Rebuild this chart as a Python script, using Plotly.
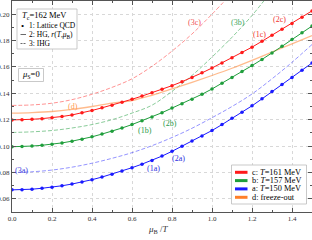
import plotly.graph_objects as go

# ---------------- data ----------------
mu_lat = [round(0.05 * i, 2) for i in range(31)]
lat_c = [0.1198, 0.1199, 0.1203, 0.1208, 0.1214, 0.1224, 0.1236, 0.1252, 0.1270, 0.1290,
         0.1310, 0.1332, 0.1355, 0.1379, 0.1404, 0.1430, 0.1458, 0.1488, 0.1520, 0.1555,
         0.1592, 0.1630, 0.1670, 0.1710, 0.1750, 0.1795, 0.1840, 0.1885, 0.1930, 0.1977, 0.2025]
lat_b = [0.0995, 0.0996, 0.1000, 0.1006, 0.1013, 0.1024, 0.1037, 0.1052, 0.1070, 0.1091,
         0.1113, 0.1137, 0.1163, 0.1191, 0.1220, 0.1253, 0.1288, 0.1321, 0.1355, 0.1393,
         0.1433, 0.1476, 0.1520, 0.1565, 0.1610, 0.1657, 0.1705, 0.1756, 0.1808, 0.1859, 0.1910]
lat_a = [0.0668, 0.0669, 0.0673, 0.0680, 0.0688, 0.0699, 0.0712, 0.0727, 0.0745, 0.0765,
         0.0787, 0.0810, 0.0836, 0.0863, 0.0891, 0.0924, 0.0960, 0.0998, 0.1038, 0.1077,
         0.1118, 0.1163, 0.1210, 0.1257, 0.1305, 0.1358, 0.1413, 0.1466, 0.1520, 0.1575, 0.1630]

mu_line = [round(0.1 * i, 1) for i in range(16)]
freeze_d = [0.1250, 0.1254, 0.1262, 0.1278, 0.1300, 0.1325, 0.1345, 0.1385, 0.1433, 0.1483,
            0.1535, 0.1590, 0.1650, 0.1713, 0.1775, 0.1838]
ihg_a = [0.0800, 0.0805, 0.0818, 0.0840, 0.0870, 0.0907, 0.0950, 0.1003, 0.1065, 0.1135,
         0.1215, 0.1300, 0.1395, 0.1510, 0.1635, 0.1770]
mu_ihg_b = [round(0.1 * i, 1) for i in range(14)]
ihg_b = [0.1103, 0.1108, 0.1118, 0.1137, 0.1163, 0.1200, 0.1250, 0.1310, 0.1415, 0.1535,
         0.1675, 0.1825, 0.1990, 0.2180]
mu_ihg_c = [round(0.1 * i, 1) for i in range(12)]
ihg_c = [0.1308, 0.1312, 0.1325, 0.1352, 0.1393, 0.1445, 0.1510, 0.1605, 0.1720, 0.1850,
         0.2000, 0.2160]

x_ticks = [0.0, 0.2, 0.4, 0.6, 0.8, 1.0, 1.2, 1.4]
y_ticks = [0.06, 0.08, 0.10, 0.12, 0.14, 0.16, 0.18, 0.20]

# ---------------- styling ----------------
RED, GREEN, BLUE, ORANGE = "#ff1a1a", "#1f9e3c", "#1a1aff", "#ff7f2a"
SERIF = "Liberation Serif"
W, H = 312, 240
ML, MR, MT, MB = 12, 0, 1, 28


def px(xp, yp):
    return (xp - ML) / (W - ML - MR), (H - MB - yp) / (H - MT - MB)


fig = go.Figure()

# IHG dashed
for xs, ys, col in [(mu_line, ihg_a, "rgba(60,60,255,0.55)"),
                    (mu_ihg_b, ihg_b, "rgba(40,160,70,0.55)"),
                    (mu_ihg_c, ihg_c, "rgba(255,40,40,0.5)")]:
    fig.add_trace(go.Scatter(x=xs, y=ys, mode="lines", line=dict(color=col, width=1, dash="4px,2px", shape="spline"),
                             showlegend=False, hoverinfo="skip"))

# freeze-out
fig.add_trace(go.Scatter(x=mu_line, y=freeze_d, mode="lines",
                         line=dict(color="rgba(255,150,80,0.65)", width=1.3, shape="spline"),
                         showlegend=False, hoverinfo="skip"))

# lattice + HG lines
for ys, col in [(lat_a, BLUE), (lat_b, GREEN), (lat_c, RED)]:
    fig.add_trace(go.Scatter(x=mu_lat, y=ys, mode="lines+markers",
                             line=dict(color=col, width=1),
                             marker=dict(color=col, size=3.5, symbol="circle"),
                             showlegend=False, hoverinfo="skip"))

ann = []
shapes = []


def note(text, xp, yp, size, color="black", xanchor="left"):
    x, y = px(xp, yp)
    ann.append(dict(text=text, x=x, y=y, xref="paper", yref="paper", xanchor=xanchor, yanchor="middle",
                    showarrow=False, font=dict(family=SERIF, size=size, color=color)))


# curve labels
labels = [("(3c)", 0.913, 0.1936, "#f05050"), ("(3b)", 1.13, 0.1936, "#40a860"),
          ("(2c)", 1.339, 0.1962, "#f03030"), ("(1c)", 1.238, 0.1849, "#f03030"),
          ("(d)", 0.305, 0.1300, "#ff9a50"), ("(1b)", 0.664, 0.1119, "#2a9a4a"),
          ("(2b)", 0.789, 0.1170, "#2a9a4a"), ("(3a)", 0.047, 0.0817, "#4040e0"),
          ("(1a)", 0.705, 0.0830, "#3030e0"), ("(2a)", 0.830, 0.0905, "#3030e0")]
for t, x, y, c in labels:
    ann.append(dict(text=t, x=x, y=y, xref="x", yref="y", showarrow=False, xanchor="center", yanchor="middle",
                    font=dict(family=SERIF, size=8, color=c)))

# top-left legend box
x0, y0 = px(17, 9)
x1, y1 = px(77, 49)
shapes.append(dict(type="rect", xref="paper", yref="paper", x0=x0, y0=y1, x1=x1, y1=y0,
                   line=dict(color="#bbbbbb", width=0.8), fillcolor="white", layer="above"))
note("<i>T</i><sub>c</sub>=162 MeV", 20, 15.5, 8.5)
rows = [("1: Lattice QCD", 25.5, "marker"), ("2: HG, <i>r</i>(<i>T</i>,<i>μ</i><sub>B</sub>)", 34.5, "solid"),
        ("3: IHG", 43.5, "dash")]
for t, yy, kind in rows:
    note(t, 27, yy, 7.5)
    if kind == "marker":
        note("•", 22.5, yy, 9, xanchor="center")
    else:
        a0, b0 = px(20.5, yy)
        a1, _ = px(26, yy)
        shapes.append(dict(type="line", xref="paper", yref="paper", x0=a0, x1=a1, y0=b0, y1=b0,
                           line=dict(color="#444444", width=0.8, dash="2px,1px" if kind == "dash" else "solid"),
                           layer="above"))

# mu_S = 0 box
x0, y0 = px(18.5, 68.5)
x1, y1 = px(43.5, 81.5)
shapes.append(dict(type="rect", xref="paper", yref="paper", x0=x0, y0=y1, x1=x1, y1=y0,
                   line=dict(color="#bbbbbb", width=0.8), fillcolor="white", layer="above"))
note("<i>μ</i><sub>S</sub>=0", 31, 75, 8.5, xanchor="center")

# bottom-right legend
x0, y0 = px(231.5, 165)
x1, y1 = px(306.5, 204)
shapes.append(dict(type="rect", xref="paper", yref="paper", x0=x0, y0=y1, x1=x1, y1=y0,
                   line=dict(color="#bbbbbb", width=0.8), fillcolor="white", layer="above"))
leg2 = [("c: <i>T</i>=161 MeV", RED, 172.3), ("b: <i>T</i>=157 MeV", GREEN, 180.6),
        ("a: <i>T</i>=150 MeV", BLUE, 188.9), ("d: freeze-out", ORANGE, 197.3)]
for t, c, yy in leg2:
    a0, b0 = px(235, yy)
    a1, _ = px(247.5, yy)
    shapes.append(dict(type="line", xref="paper", yref="paper", x0=a0, x1=a1, y0=b0, y1=b0,
                       line=dict(color=c, width=3), layer="above"))
    note(t, 249.5, yy, 8.3)

# x-axis title
note("<i>μ</i><sub>B</sub> /<i>T</i>", 158, 229.5, 9, color="#333333", xanchor="center")

axis_common = dict(showline=True, linecolor="#555555", linewidth=1, mirror="ticks",
                   ticks="inside", ticklen=4, tickcolor="#555555", tickwidth=1,
                   showgrid=True, gridcolor="#d8d8d8", griddash="dot", gridwidth=1,
                   zeroline=False, automargin=False,
                   tickfont=dict(family=SERIF, size=7, color="#333333"))

fig.update_xaxes(range=[0, 1.5], tickvals=x_ticks, ticktext=[f"{v:.1f}" for v in x_ticks],
                 minor=dict(dtick=0.1, ticklen=2, ticks="inside", tickcolor="#555555", showgrid=False),
                 **axis_common)
fig.update_yaxes(range=[0.05, 0.21], tickvals=y_ticks, ticktext=[f"{v:.2f}" for v in y_ticks],
                 minor=dict(dtick=0.01, ticklen=2, ticks="inside", tickcolor="#555555", showgrid=False),
                 **axis_common)

fig.update_layout(width=W, height=H, margin=dict(l=ML, r=MR, t=MT, b=MB),
                  paper_bgcolor="white", plot_bgcolor="white", showlegend=False,
                  hovermode=False, annotations=ann, shapes=shapes)

fig.write_html("out.html", config={"displayModeBar": False, "staticPlot": True},
               post_script="document.body.style.margin='0';document.body.style.padding='0';"
                           "document.body.style.overflow='hidden';")
